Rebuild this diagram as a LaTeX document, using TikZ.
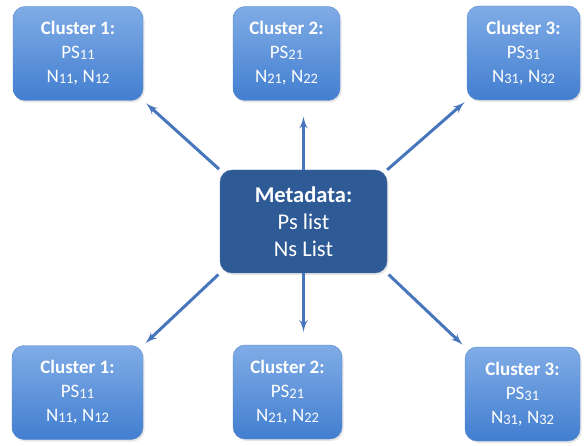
\documentclass[tikz,border=0pt]{standalone}
\usepackage{fontspec}
\setmainfont{Carlito}
\usetikzlibrary{arrows,shadows,calc}
\definecolor{clustertop}{RGB}{128,172,230}
\definecolor{clusterbot}{RGB}{66,126,208}
\definecolor{clusteredge}{RGB}{86,136,204}
\definecolor{metafill}{RGB}{46,90,150}
\definecolor{metaedge}{RGB}{72,112,168}
\definecolor{linkblue}{RGB}{72,118,188}
\newcommand{\idx}[1]{\raisebox{-0.1ex}{\fontsize{14.5}{14.5}\selectfont #1}}
\tikzset{
    cluster/.style = {draw=clusteredge, rectangle, rounded corners=12pt,
        top color=clustertop, bottom color=clusterbot,
        minimum height=94pt, inner sep=0pt, text=white, align=center,
        font=\fontsize{19}{24}\selectfont,
        drop shadow={opacity=0.2, shadow xshift=1.5pt, shadow yshift=-2pt}},
    meta/.style = {draw=metaedge, fill=metafill, rectangle, rounded corners=12pt,
        minimum width=167pt, minimum height=103pt, inner sep=0pt,
        text=white, align=center, font=\fontsize{22.5}{27}\selectfont,
        drop shadow={opacity=0.2, shadow xshift=1.5pt, shadow yshift=-2pt}},
    link/.style = {draw, ->, linkblue, line width=3pt}
}

\begin{document}
\begin{tikzpicture}[x=1pt, y=-1pt, >=latex']
    \useasboundingbox (0,0) rectangle (586,446);
    % centre
    \node [meta, name=meta] at (303.5,221.5) {\textbf{Metadata:}\\Ps list\\Ns List};
    % top row
    \node [cluster, minimum width=130pt, name=c1t] at (78,53.5) {\textbf{Cluster 1:}\\PS\idx{11}\\N\idx{11}, N\idx{12}};
    \node [cluster, minimum width=107pt, name=c2t] at (286.5,53.5) {\textbf{Cluster 2:}\\PS\idx{21}\\N\idx{21}, N\idx{22}};
    \node [cluster, minimum width=113pt, name=c3t] at (523.5,53) {\textbf{Cluster 3:}\\PS\idx{31}\\N\idx{31}, N\idx{32}};
    % bottom row
    \node [cluster, minimum width=131pt, name=c1b] at (77.5,392.5) {\textbf{Cluster 1:}\\PS\idx{11}\\N\idx{11}, N\idx{12}};
    \node [cluster, minimum width=109pt, name=c2b] at (287.5,392) {\textbf{Cluster 2:}\\PS\idx{21}\\N\idx{21}, N\idx{22}};
    \node [cluster, minimum width=115pt, name=c3b] at (522.5,394) {\textbf{Cluster 3:}\\PS\idx{31}\\N\idx{31}, N\idx{32}};
    % links
    \draw [link, shorten <=1pt, shorten >=4pt] (meta.north west) -- (c1t.south east);
    \draw [link, shorten >=3pt] (meta.north east) -- (c3t.south west);
    \draw [link, shorten <=2pt, shorten >=3pt] (meta.south west) -- (c1b.north east);
    \draw [link, shorten <=2pt, shorten >=3pt] (meta.south east) -- (c3b.north west);
    \draw [link, shorten >=16pt] (meta.north) -- (meta.north |- c2t.south);
    \draw [link, shorten >=13pt] (meta.south) -- (meta.south |- c2b.north);
\end{tikzpicture}
\end{document}
